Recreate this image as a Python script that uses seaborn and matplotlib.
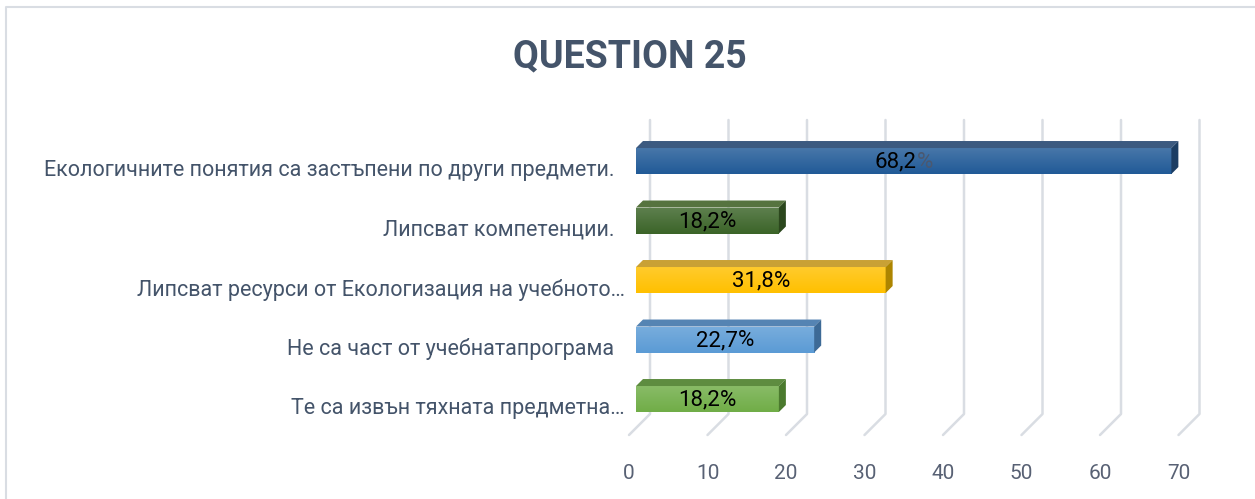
import numpy as np
import matplotlib
matplotlib.use("Agg")
import matplotlib.pyplot as plt
import matplotlib.colors as mcolors
from matplotlib.transforms import ScaledTranslation, IdentityTransform
from matplotlib.patches import Polygon
from matplotlib.lines import Line2D
import seaborn as sns

# ---- data ----
title = "QUESTION 25"
categories = [
    "Екологичните понятия са застъпени по други предмети.  ",
    "Липсват компетенции.  ",
    "Липсват ресурси от Екологизация на учебното…",
    "Не са част от учебнатапрограма  ",
    "Те са извън тяхната предметна…",
]
values = [68.2, 18.2, 31.8, 22.7, 18.2]
value_texts = ["68,2", "18,2", "31,8", "22,7", "18,2"]
percent_colors = ["#4a5870", "#000000", "#000000", "#000000", "#000000"]
xticks = [0, 10, 20, 30, 40, 50, 60, 70]

front_colors = ["#215a97", "#3b6428", "#ffc000", "#5b9bd5", "#70ad47"]
top_colors = ["#3c5a80", "#56733f", "#c9a135", "#5584b3", "#5e8c40"]
side_colors = ["#1c3d63", "#2b471d", "#ad8500", "#3d6a96", "#4b7a2e"]

# ---- style ----
sns.set_theme(style="white")
plt.rcParams["font.family"] = ["Roboto", "DejaVu Sans"]

W, H, DPI = 1255, 499, 100
fig = plt.figure(figsize=(W / DPI, H / DPI), dpi=DPI)
fig.patch.set_facecolor("white")

# plot area in pixels
L, R, T, B = 629, 1200, 115, 435
ax = fig.add_axes([L / W, 1 - B / H, (R - L) / W, (B - T) / H])

sns.barplot(x=values, y=categories, hue=categories, palette=front_colors,
            orient="h", width=0.437, saturation=1, legend=False, ax=ax,
            edgecolor="none")

XMAX = (R - L) / 7.85
ax.set_xlim(0, XMAX)
ax.set_ylim(4.487, -0.891)
ax.set_facecolor("none")
for s in ax.spines.values():
    s.set_visible(False)

ax.set_xticks(xticks)
ax.set_xticklabels([str(t) for t in xticks])
ax.tick_params(axis="x", length=0, pad=21, labelsize=15, labelcolor="#586174")
ax.tick_params(axis="y", length=0, pad=3, labelsize=15.5, labelcolor="#44546A")
ax.set_xlabel("")
ax.set_ylabel("")

# depth of the 3D bars (pixels)
DX, DY = 7, 7
DEPTH = 7
shift = ax.transData + ScaledTranslation(DX / DPI, DY / DPI, fig.dpi_scale_trans)
ident = IdentityTransform()

# back-plane gridlines with floor diagonals
BACK_OFF = 21
GRID_TOP = H - 120
for t in xticks:
    fx, fy = ax.transData.transform((t, 0))
    fy = H - B
    bx, by = fx + BACK_OFF, fy + BACK_OFF
    ax.add_line(Line2D([fx, bx, bx], [fy, by, GRID_TOP], transform=ident,
                       color="#d9dde3", lw=1.8, zorder=0, clip_on=False))

fig.canvas.draw()
renderer = fig.canvas.get_renderer()


def text_width(s, size):
    t = fig.text(0, 0, s, fontsize=size)
    w = t.get_window_extent(renderer).width
    t.remove()
    return w


def lighten(c, f):
    r = np.array(mcolors.to_rgb(c))
    return tuple(r + (1 - r) * f)


LABEL_SIZE = 16
bars = list(ax.patches)
for i, p in enumerate(bars):
    p.set_transform(shift)
    p.set_zorder(3)
    x0, y0 = p.get_x(), p.get_y()
    w, h = p.get_width(), p.get_height()

    # vertical gradient on the front face
    base = np.array(mcolors.to_rgb(front_colors[i]))
    light = np.array(lighten(front_colors[i], 0.18))
    g = np.linspace(0, 1, 64)[:, None]
    img = light[None, :] * (1 - g[..., None]) + base[None, :] * g[..., None]
    img = np.repeat(img, 2, axis=1)
    im = ax.imshow(img, extent=[x0, x0 + w, y0 + h, y0], aspect="auto",
                   transform=shift, zorder=3.1, interpolation="bilinear")
    im.set_clip_path(p)

    # display corners of the front face
    (ax0, ay_top) = shift.transform((x0, y0))
    (ax1, ay_bot) = shift.transform((x0 + w, y0 + h))
    top_face = Polygon([(ax0, ay_top), (ax1, ay_top), (ax1 + DEPTH, ay_top + DEPTH),
                        (ax0 + DEPTH, ay_top + DEPTH)], closed=True,
                       transform=ident, facecolor=top_colors[i], edgecolor="none",
                       zorder=3.2, clip_on=False)
    side_face = Polygon([(ax1, ay_top), (ax1 + DEPTH, ay_top + DEPTH),
                         (ax1 + DEPTH, ay_bot + DEPTH), (ax1, ay_bot)], closed=True,
                        transform=ident, facecolor=side_colors[i], edgecolor="none",
                        zorder=3.2, clip_on=False)
    ax.add_patch(top_face)
    ax.add_patch(side_face)

    # value label: number in black, percent sign coloured
    cx = (ax0 + ax1) / 2
    cy = (ay_top + ay_bot) / 2 - 1
    num = value_texts[i]
    w_all = text_width(num + "%", LABEL_SIZE)
    w_num = text_width(num, LABEL_SIZE)
    left = cx - w_all / 2
    ax.text(left, cy, num, transform=ident, ha="left", va="center",
            fontsize=LABEL_SIZE, color="#000000", zorder=5)
    ax.text(left + w_num, cy, "%", transform=ident, ha="left", va="center",
            fontsize=LABEL_SIZE, color=percent_colors[i], zorder=5)

ax.set_xlim(0, XMAX)
ax.set_ylim(4.487, -0.891)

# title
fig.text(630 / W, 1 - 57 / H, title, ha="center", va="center",
         fontsize=27, fontweight="bold", color="#44546A")

# chart frame (left and top edges)
fig.add_artist(Line2D([6 / W, 6 / W, 1.0], [0.0, 1 - 7 / H, 1 - 7 / H],
                      transform=fig.transFigure, color="#d9dde3", lw=1.5))

fig.savefig("out.png", dpi=DPI, facecolor="white")
